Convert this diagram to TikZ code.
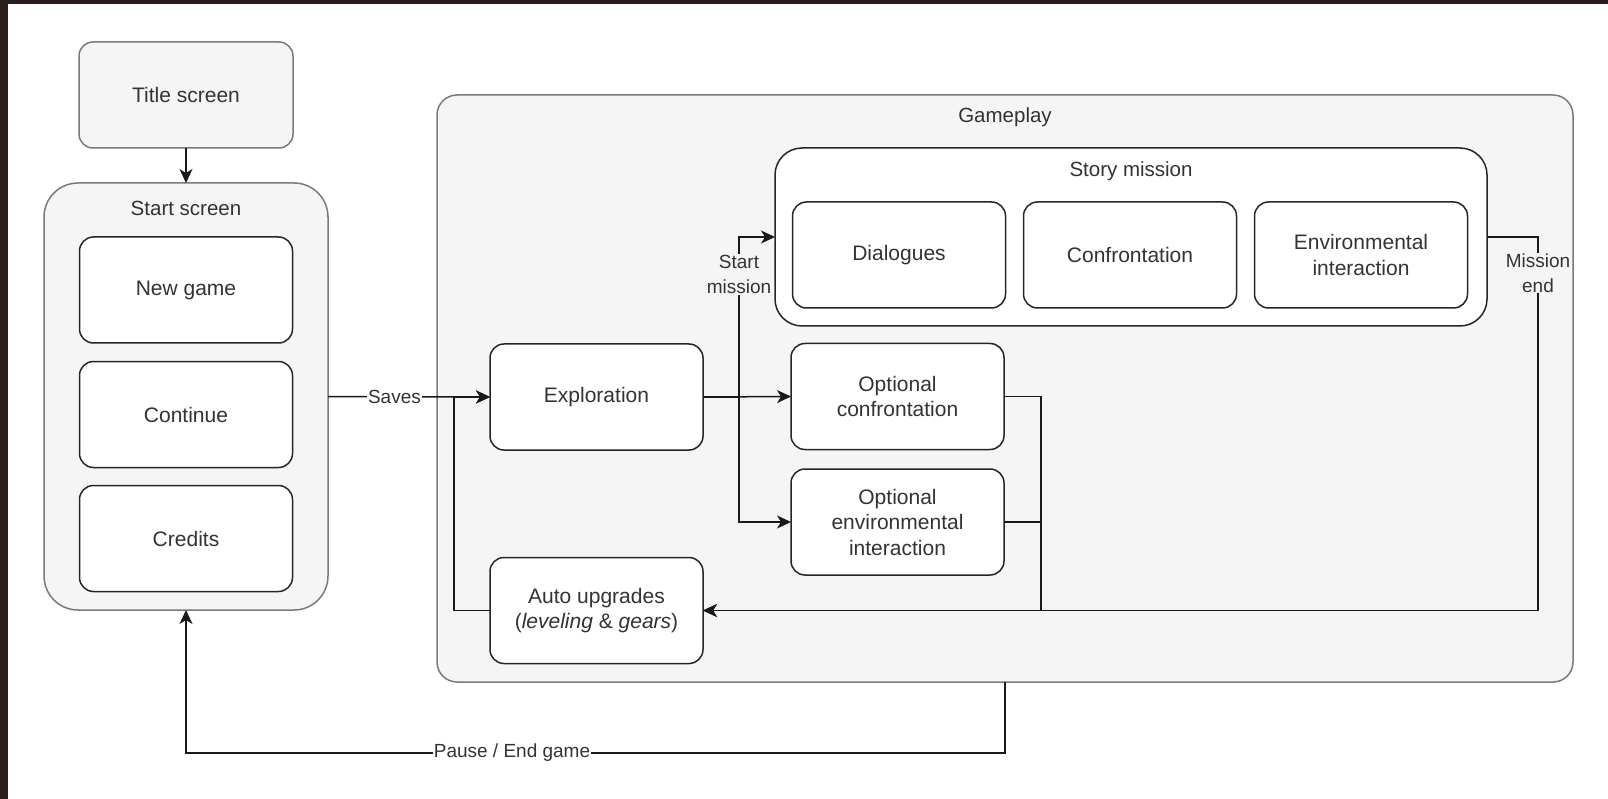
\documentclass[tikz,border=0pt]{standalone}
\usepackage{fontspec}
\setmainfont{Liberation Sans}
\usetikzlibrary{arrows.meta}
\definecolor{txt}{HTML}{333333}
\definecolor{cfill}{HTML}{F5F5F5}
\definecolor{cline}{HTML}{7A7A7A}
\definecolor{edgebg}{HTML}{2A1F1D}
\begin{document}
\begin{tikzpicture}[x=1pt,y=-1pt,
  box/.style={draw=black!85, line width=1.5pt, fill=white, rounded corners=14pt,
    minimum width=213pt, minimum height=106pt, inner sep=0pt, outer sep=0pt,
    align=center, text=txt, font=\fontsize{21}{25.5}\selectfont},
  cont/.style={draw=cline, line width=1.5pt, fill=cfill, inner sep=0pt, outer sep=0pt},
  contlab/.style={text=txt, font=\fontsize{20.5}{25}\selectfont, inner sep=0pt},
  conn/.style={line width=1.5pt, draw=black!90},
  arr/.style={conn, -{Stealth[length=14pt,width=13pt,inset=4pt]}},
  lab/.style={text=txt, font=\fontsize{19}{25}\selectfont, inner sep=1pt, align=center},
]
% background and frame
\fill[edgebg] (0,0) rectangle (1608,799);
\fill[white] (8,4) rectangle (1608,799);
\useasboundingbox (0,0) rectangle (1608,799);

% containers
\node[cont, rounded corners=20pt, minimum width=1136pt, minimum height=587pt] (gameplay) at (1005,388.5) {};
\node[contlab] (gameplaylab) at (1005,117) {Gameplay};
\node[cont, rounded corners=34pt, minimum width=284pt, minimum height=427pt] (start) at (186,396.5) {};
\node[contlab] (startlab) at (186,208) {Start screen};
\node[draw=black!85, line width=1.5pt, fill=white, rounded corners=27pt, minimum width=712pt, minimum height=178pt, inner sep=0pt, outer sep=0pt] (story) at (1131,237) {};
\node[contlab] (storylab) at (1131,171) {Story mission};

% title
\node[box, draw=cline, fill=cfill, minimum width=214pt] (title) at (186,95) {Title screen};

% start screen entries
\node[box] (newgame) at (186,290) {New game};
\node[box] (continue) at (186,414.5) {Continue};
\node[box] (credits) at (186,538.5) {Credits};

% story mission entries
\node[box] (dialogues) at (899,255) {Dialogues};
\node[box] (confront) at (1130,255) {Confrontation};
\node[box] (envint) at (1361,255) {Environmental\\interaction};

% gameplay boxes
\node[box] (expl) at (596.5,397) {Exploration};
\node[box] (auto) at (596.5,610.5) {Auto upgrades\\(\textit{leveling} \& \textit{gears})};
\node[box] (optconf) at (897.5,396.5) {Optional\\confrontation};
\node[box] (optenv) at (897.5,522) {Optional\\environmental\\interaction};

% helper coordinates
\coordinate (sj) at (739,397);
\coordinate (mj) at (1041,610.5);
\coordinate (me) at (1538,610.5);
\coordinate (pz) at (1005,753);

% connectors
\draw[arr] (title.south) -- (start.north);
\draw[arr] (start.east) -- node[lab, fill=white, pos=0.41] (saves) {Saves} (expl.west);
\draw[arr] (auto.west) -- ++(-36,0) |- (expl.west);
\draw[arr] (expl.east) -- (optconf.west);
\draw[arr] (expl.east) -- (sj) |- (story.west);
\draw[arr] (expl.east) -- (sj) |- (optenv.west);
\node[lab, fill=cfill] (startmission) at (739,274.5) {Start\\mission};
\draw[arr] (optconf.east) -| (mj) -- (auto.east);
\draw[conn] (optenv.east) -| (mj);
\draw[arr] (story.east) -| (me) -- (auto.east);
\node[lab, fill=cfill] (missionend) at (1538,273) {Mission\\end};
\draw[arr] (gameplay.south) -- (pz) -| (start.south);
\node[lab, fill=white] (pause) at (512,753) {Pause / End game};
\end{tikzpicture}
\end{document}
